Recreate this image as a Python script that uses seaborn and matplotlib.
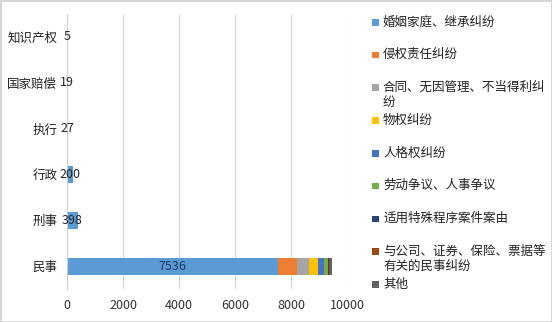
import matplotlib
matplotlib.use("Agg")
import matplotlib.pyplot as plt
from matplotlib.patches import Rectangle
import numpy as np
import pandas as pd
import seaborn as sns

sns.set_style("white")
plt.rcParams['font.family'] = ['Noto Sans CJK SC', 'DejaVu Sans']

categories = ["知识产权", "国家赔偿", "执行", "行政", "刑事", "民事"]
series_names = ["婚姻家庭、继承纠纷", "侵权责任纠纷", "合同、无因管理、不当得利纠纷", "物权纠纷",
                "人格权纠纷", "劳动争议、人事争议", "适用特殊程序案件案由",
                "与公司、证券、保险、票据等有关的民事纠纷", "其他"]
# values per series, in category order
s_marriage = [5, 19, 27, 200, 398, 7536]
s_tort = [0, 0, 0, 0, 0, 690]
s_contract = [0, 0, 0, 0, 0, 415]
s_property = [0, 0, 0, 0, 0, 335]
s_personality = [0, 0, 0, 0, 0, 190]
s_labor = [0, 0, 0, 0, 0, 160]
s_special = [0, 0, 0, 0, 0, 45]
s_company = [0, 0, 0, 0, 0, 20]
s_other = [0, 0, 0, 0, 0, 75]
series_values = [s_marriage, s_tort, s_contract, s_property, s_personality,
                 s_labor, s_special, s_company, s_other]
colors = ["#5B9BD5", "#ED7D31", "#A5A5A5", "#FFC000", "#4472C4", "#70AD47",
          "#264478", "#9E480E", "#636363"]
xticks = [0, 2000, 4000, 6000, 8000, 10000]

W, H = 552, 322
fig = plt.figure(figsize=(W / 100, H / 100), dpi=100)
ax = fig.add_axes([67 / W, 1 - 289 / H, 280 / W, 275 / H])

vals = np.array(series_values, dtype=float)
cum = np.cumsum(vals, axis=0)
# draw from last cumulative to first so the earlier segments lie on top
for j in reversed(range(len(series_names))):
    df = pd.DataFrame({"cat": categories, "cum": cum[j], "v": vals[j]})
    sub = df[df["v"] > 0]
    sns.barplot(data=sub, x="cum", y="cat", order=categories, orient="h",
                color=colors[j], saturation=1, width=0.37, linewidth=0, ax=ax)

first = ax.containers[-1]
texts = ax.bar_label(first, labels=[str(v) for v in s_marriage], label_type="center",
                     fontsize=9, color="#262626")
for t, v in zip(texts, s_marriage):
    if v > 1000:
        t.set_color("#1F3864")

ax.set_xlim(0, 10000)
ax.set_xticks(xticks)
ax.set_xticklabels([str(x) for x in xticks])
ax.set_xlabel("")
ax.set_ylabel("")
ax.grid(axis="x", color="#d9d9d9", linewidth=0.9)
ax.set_axisbelow(True)
for s in ["top", "right", "bottom"]:
    ax.spines[s].set_visible(False)
ax.spines["left"].set_color("#d0d0d0")
ax.tick_params(axis="x", length=0, pad=7, labelsize=9, labelcolor="#333333")
ax.tick_params(axis="y", length=0, pad=7, labelsize=9, labelcolor="#222222")

# legend drawn manually on the right
step = 32.75
for i, (name, c) in enumerate(zip(series_names, colors)):
    yc = 22 + step * i
    fig.add_artist(Rectangle(((372) / W, 1 - (yc + 3.5) / H), 6.5 / W, 6.5 / H,
                             transform=fig.transFigure, facecolor=c, edgecolor="none"))
    lines = [name[k:k + 13] for k in range(0, len(name), 13)]
    for li, line in enumerate(lines):
        fig.text(383 / W, 1 - (yc + 15 * li) / H, line, fontsize=9, va="center",
                 ha="left", color="#222222")

fig.add_artist(Rectangle((0, 0), 1, 1, transform=fig.transFigure, fill=False,
                         edgecolor="#d4d4d4", linewidth=2))

fig.savefig("out.png", dpi=100)
